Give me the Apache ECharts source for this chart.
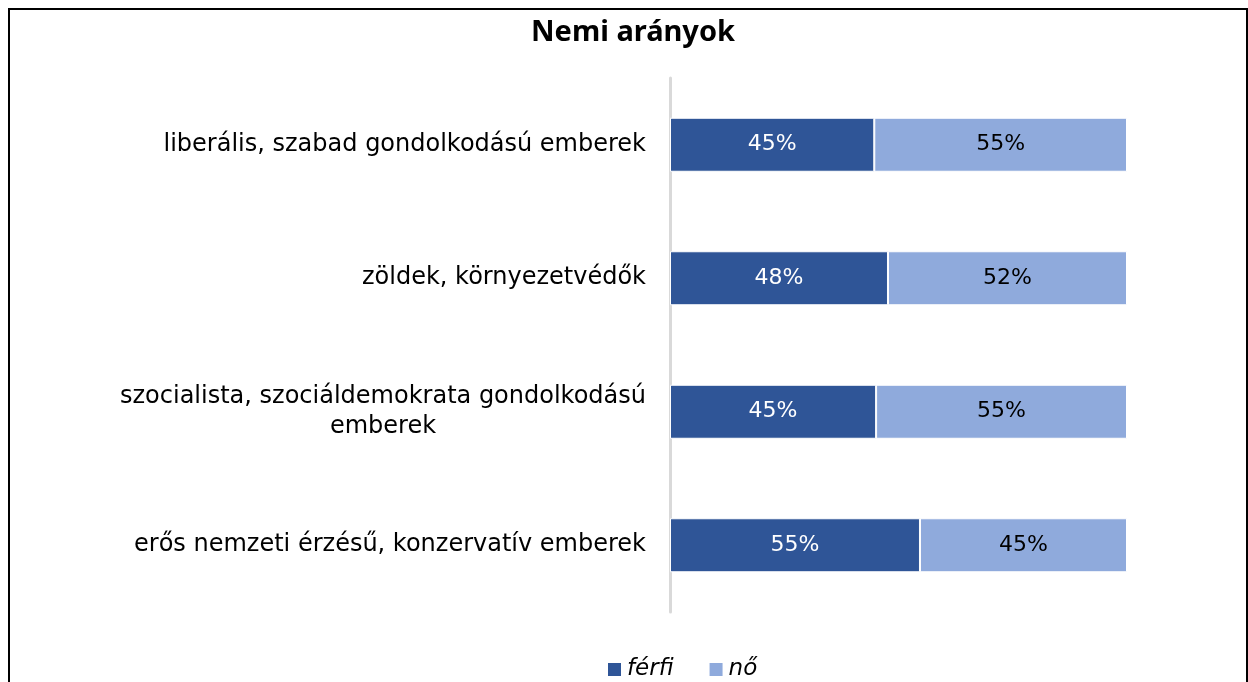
<!DOCTYPE html>
<html>
<head>
<meta charset="utf-8">
<script src="https://cdn.jsdelivr.net/npm/echarts@6/dist/echarts.min.js"></script>
<style>
  html, body { margin: 0; padding: 0; background: #fff; }
  #wrap { position: relative; width: 1248px; height: 682px; overflow: hidden; }
  #frame { position: absolute; left: 8px; top: 8px; width: 1240px; height: 700px; box-sizing: border-box; border: 2px solid #000; }
  #chart { position: absolute; left: 0; top: 0; width: 1248px; height: 682px; }
</style>
</head>
<body>
<div id="wrap">
  <div id="frame"></div>
  <div id="chart"></div>
</div>
<script>
// data
var categories = [
  'liberális, szabad gondolkodású emberek',
  'zöldek, környezetvédők',
  'szocialista, szociáldemokrata gondolkodású\nemberek',
  'erős nemzeti érzésű, konzervatív emberek'
]
var ferfi = [44.7, 47.7, 45.1, 54.7]
var no = [55.3, 52.3, 54.9, 45.3]

var bodyFont = '"DejaVu Sans", sans-serif'
var titleFont = '"Noto Sans", sans-serif'
var labelSize = 24

// width of wrapped labels, so the lines can be centred like in Excel
var ctx = document.createElement('canvas').getContext('2d')
ctx.font = labelSize + 'px "DejaVu Sans"'
var wrapWidth = 0
categories.forEach(function(c) {
  if (c.indexOf('\n') >= 0) {
    c.split('\n').forEach(function(s) {
      wrapWidth = Math.max(wrapWidth, Math.ceil(ctx.measureText(s).width))
    })
  }
})

var chart = echarts.init(document.getElementById('chart'))

function pct(p) {
  return Math.round(p.value) + '%'
}

chart.setOption({
  animation: false,
  backgroundColor: 'transparent',
  textStyle: { fontFamily: bodyFont },
  title: {
    text: 'Nemi arányok',
    left: 526,
    top: 13,
    textStyle: { fontSize: 29, fontWeight: 'bold', color: '#000', fontFamily: titleFont }
  },
  legend: {
    data: ['férfi', 'nő'],
    left: 601,
    top: 653,
    icon: 'rect',
    itemWidth: 15,
    itemHeight: 15,
    itemGap: 34,
    textStyle: { fontSize: 23, fontStyle: 'italic', color: '#000', fontFamily: bodyFont }
  },
  grid: { left: 670, right: 121, top: 78, bottom: 70 },
  xAxis: {
    type: 'value',
    min: 0,
    max: 100,
    show: false
  },
  yAxis: {
    type: 'category',
    inverse: true,
    data: categories,
    axisLine: { show: true, lineStyle: { color: '#D9D9D9', width: 3 } },
    axisTick: { show: false },
    axisLabel: {
      margin: 24,
      fontSize: labelSize,
      color: '#000',
      lineHeight: 30,
      formatter: function(v) {
        if (v.indexOf('\n') < 0) return v
        return v.split('\n').map(function(s) { return '{c|' + s + '}' }).join('\n')
      },
      rich: {
        c: { width: wrapWidth, align: 'center', fontSize: labelSize, lineHeight: 30, color: '#000' }
      }
    }
  },
  series: [
    {
      name: 'férfi',
      type: 'bar',
      stack: 'total',
      barWidth: 54,
      data: ferfi,
      itemStyle: { color: '#2F5597', borderColor: '#fff', borderWidth: 1 },
      label: { show: true, position: 'inside', color: '#fff', fontSize: 22, formatter: pct }
    },
    {
      name: 'nő',
      type: 'bar',
      stack: 'total',
      barWidth: 54,
      data: no,
      itemStyle: { color: '#8FAADC', borderColor: '#fff', borderWidth: 1 },
      label: { show: true, position: 'inside', color: '#000', fontSize: 22, formatter: pct }
    }
  ]
})
</script>
</body>
</html>
